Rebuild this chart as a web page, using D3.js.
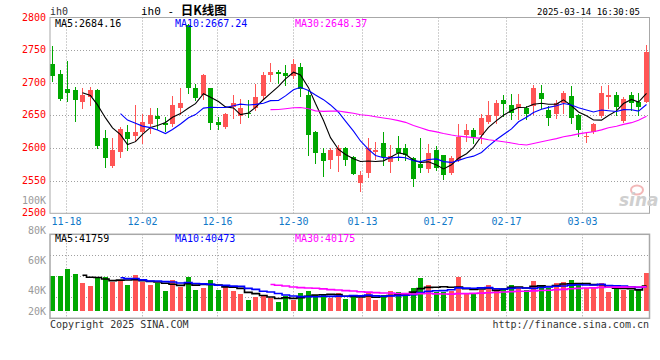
<!DOCTYPE html>
<html><head><meta charset="utf-8">
<script src="https://cdn.jsdelivr.net/npm/d3@7"></script>
<style>
body{margin:0;background:#fff}
svg{display:block}
text{font-family:"DejaVu Sans Mono","Liberation Mono",monospace}
</style>
</head><body>
<svg id="chart" width="660" height="360"></svg>
<script>
// ---------------- data ----------------
const dates = ["11-14","11-15","11-18","11-19","11-20","11-21","11-22","11-25","11-26","11-27","11-28","11-29",
"12-02","12-03","12-04","12-05","12-06","12-09","12-10","12-11","12-12","12-13","12-16","12-17","12-18","12-19","12-20",
"12-23","12-24","12-25","12-26","12-27","12-30","12-31",
"01-02","01-03","01-06","01-07","01-08","01-09","01-10","01-13","01-14","01-15","01-16","01-17","01-20","01-21","01-22","01-23","01-24","01-27",
"02-05","02-06","02-07","02-10","02-11","02-12","02-13","02-14","02-17","02-18","02-19","02-20","02-21","02-24","02-25","02-26","02-27","02-28",
"03-03","03-04","03-05","03-06","03-07","03-10","03-11","03-12","03-13","03-14"];

const openP = [2728.5,2713,2691,2688.5,2670.7,2678.4,2688.6,2616,2572,2594.4,2625.1,2618.5,2625.1,2636.5,2648.5,2639,2636.4,2661,2789,2691.7,
2681.4,2691.7,2640,2632.8,2663.5,2649.2,2654.3,2661,2679,2712.5,2717,2715.5,2710,2723.4,2681,2625.1,2592.9,2581,2587.5,2600,
2586,2546,2562.2,2594.4,2608.2,2579.1,2600.6,2600.6,2585.2,2575,2567.3,2596.5,2588.8,2562.2,2581,2620,2627.2,2620,2640.5,2649.2,
2673.2,2665.6,2661,2662,2664.5,2685,2657.9,2651.7,2669.7,2679.9,2650.8,2616.7,2623.8,2649.2,2678.8,2681.3,2642,2681.3,2671.1,2671.1];
const highP = [2756.5,2719,2734,2693.5,2691.7,2693.7,2690.1,2627.2,2616,2632.3,2635.4,2666,2651.7,2661.6,2661,2647.6,2679.9,2692.7,2790,2697.8,
2713.2,2692,2647.6,2654.3,2682,2674.8,2673.2,2697.8,2716,2731,2719.4,2727,2737,2731,2688.6,2626,2600.6,2600,2605,2602,
2588,2564.5,2615,2609.8,2624.6,2604.1,2618,2605.7,2586.2,2616,2605.7,2603.1,2589,2587.8,2636.4,2637.4,2631.3,2652.8,2672.2,2673.2,
2680.9,2682.4,2682.4,2664.5,2696.8,2696.8,2664.5,2673.2,2687.6,2695.2,2652.3,2623.8,2638,2695,2696.6,2686.4,2678.8,2686.4,2684.9,2757.6];
const lowP = [2703,2673,2671.5,2641.5,2662,2665.6,2600.6,2570.9,2571,2586.2,2596.5,2610.8,2608.2,2623.4,2628.7,2626.2,2633.8,2651.7,2685,2673.7,
2674.8,2628.7,2629.7,2631.3,2646,2639,2647.6,2657.9,2676.3,2702,2699.5,2696.5,2707,2679.9,2589.3,2576.5,2556.5,2569.5,2565.5,2574.5,
2559.5,2533.5,2555.5,2582.7,2574,2563.7,2581,2581,2541.7,2563.7,2563.7,2565.7,2552,2560.6,2580,2610.8,2608.2,2608.2,2639,2639,
2649.2,2644,2644,2644,2651.7,2661,2635.4,2646.6,2654.3,2639,2617.7,2608.5,2622.8,2647.2,2661,2650,2640.6,2658.4,2650.8,2670];
const closeP = [2711,2674.5,2684,2673.7,2681,2688.6,2603.1,2584.2,2597.5,2628.7,2613.4,2625.1,2640.5,2650.3,2644,2635.4,2665.6,2668.6,2692.7,2677.3,
2712.1,2639,2635.4,2651.7,2669,2661,2651.7,2678.4,2711.5,2716.7,2713.5,2710,2729,2690.1,2620,2591.9,2580.1,2597.5,2599.5,2581.5,
2560,2558.5,2600.6,2596.5,2586.2,2587.8,2592,2589.3,2552,2568.8,2592,2568.8,2558.6,2584.2,2617.6,2627.2,2617.5,2645.6,2650.2,2669.7,
2668.1,2654.3,2668.1,2652.8,2691.7,2675.8,2646.6,2669.7,2685,2646.6,2627.9,2618.7,2637,2683.8,2681.3,2663.5,2675.2,2668.6,2663.5,2747.5];
const volume = [50000,50000,54800,51300,45300,43400,49400,49400,46000,47100,43800,50500,46000,43800,44900,39800,47100,42200,49100,40400,
42000,47100,40400,42700,39800,37800,33800,36000,36500,34900,32700,36500,33800,38700,39800,37100,37100,34900,38200,34400,
36500,35300,38200,33800,37100,39800,38900,37600,42000,48700,43800,39400,39400,40000,49300,38200,37600,40500,43800,41100,
42000,43800,41600,40500,46500,43800,41600,44900,45600,47100,44400,41600,41600,44900,38900,41600,40500,40500,41100,51600];

const priceTicks = [2500,2550,2600,2650,2700,2750,2800];
const volTicks = [20000,40000,60000,80000,100000];
const volTickLabels = ["20K","40K","60K","80K","100K"];
const dateTicks = ["11-18","12-02","12-16","12-30","01-13","01-27","02-17","03-03"];
const maPeriods = [5,10,30];
const priceMA = ["2684.16","2667.24","2648.37"];
const volMA = ["41759","40473","40175"];
const symbol = "ih0";
const title = "日K线图";
const stamp = "2025-03-14 16:30:05";

// ---------------- layout ----------------
const L = 50, R = 649.5;
const pTop = 17.5, pBot = 213.3;
const vTop = 234.3, vBot = 318.3, vBarBase = 311;
const UP = "#ff5555", DOWN = "#00a800";
const maColors = ["#000000","#0000ff","#ff00ff"];
const gridColor = "#a0a0a0";

const svg = d3.select("#chart");
const x = d3.scaleBand().domain(dates).range([48.5, 649.7]).padding(0);
const xg = d3.scaleBand().domain(dates).range([46.7, 653.8]).padding(0);
const cx = d => Math.round(x(d) + x.bandwidth()/2);
const gx = d => Math.round(xg(d) + xg.bandwidth()/2) + 0.5;
const y = d3.scaleLinear().domain([2500,2800]).range([pBot,pTop]);
const yV = d3.scaleLinear().domain([0,100000]).range([350.7,200.7]);
const py = v => Math.round(v) + 0.5;

const idx = d3.range(dates.length);

// ---------------- header ----------------
svg.append("text").attr("x",50).attr("y",15).attr("font-size",10).attr("fill","#333").text(symbol);
const t = svg.append("text").attr("x",141).attr("y",15).attr("fill","#000");
t.append("tspan").attr("font-size",11).text(symbol+" - ");
t.append("tspan").attr("font-size",12.5).attr("font-weight","bold").style("font-family","'Noto Sans CJK SC',sans-serif").text(title);
svg.append("text").attr("x",640).attr("y",15).attr("text-anchor","end").attr("font-size",9).attr("fill","#000").text(stamp);

// ---------------- grids ----------------
const g = svg.append("g");
// price horizontal grid
g.selectAll(".hg").data(priceTicks.filter(v=>v>2500 && v<2800)).enter().append("line")
  .attr("x1",L).attr("x2",R).attr("y1",d=>py(y(d))).attr("y2",d=>py(y(d)))
  .attr("stroke",gridColor).attr("stroke-dasharray","1,2");
// vertical grid (price + volume)
g.selectAll(".vg").data(dateTicks).enter().append("line")
  .attr("x1",gx).attr("x2",gx).attr("y1",pTop).attr("y2",pBot)
  .attr("stroke",gridColor).attr("stroke-dasharray","1,2");
g.selectAll(".vg2").data(dateTicks).enter().append("line")
  .attr("x1",gx).attr("x2",gx).attr("y1",vTop).attr("y2",vBot)
  .attr("stroke",gridColor).attr("stroke-dasharray","1,2");
// volume horizontal grid
g.selectAll(".vhg").data([0.25,0.5,0.75]).enter().append("line")
  .attr("x1",L).attr("x2",R).attr("y1",d=>py(vTop+(vBot-vTop)*d-0.6)).attr("y2",d=>py(vTop+(vBot-vTop)*d-0.6))
  .attr("stroke",gridColor).attr("stroke-dasharray","1,2");

// ---------------- candles ----------------
const cg = svg.append("g").attr("shape-rendering","crispEdges");
cg.selectAll(".wick").data(idx).enter().append("line")
  .attr("x1",i=>cx(dates[i])+0.5).attr("x2",i=>cx(dates[i])+0.5)
  .attr("y1",i=>Math.round(y(highP[i]))).attr("y2",i=>Math.round(y(lowP[i]))+1)
  .attr("stroke",i=>closeP[i]>=openP[i]?UP:DOWN);
cg.selectAll(".body").data(idx).enter().append("rect")
  .attr("x",i=>cx(dates[i])-2).attr("width",5)
  .attr("y",i=>Math.round(y(Math.max(openP[i],closeP[i]))))
  .attr("height",i=>Math.max(1,Math.round(y(Math.min(openP[i],closeP[i])))-Math.round(y(Math.max(openP[i],closeP[i])))))
  .attr("fill",i=>closeP[i]>=openP[i]?UP:DOWN);

// moving averages
function sma(arr,p){return arr.map((v,i)=> i<p-1?null:d3.mean(arr.slice(i-p+1,i+1)));}
maPeriods.forEach((p,k)=>{
  const m = sma(closeP,p);
  const pts = idx.filter(i=>m[i]!==null);
  svg.append("path").datum(pts)
    .attr("d",d3.line().x(i=>cx(dates[i])+0.5).y(i=>y(m[i])))
    .attr("fill","none").attr("stroke",maColors[k]).attr("stroke-width",1.1);
});

// volume bars
const vg = svg.append("g").attr("shape-rendering","crispEdges");
vg.selectAll(".vb").data(idx).enter().append("rect")
  .attr("x",i=>cx(dates[i])-2).attr("width",5)
  .attr("y",i=>Math.round(yV(volume[i])))
  .attr("height",i=>vBarBase-Math.round(yV(volume[i])))
  .attr("fill",i=>closeP[i]>=openP[i]?UP:DOWN);
maPeriods.forEach((p,k)=>{
  const m = sma(volume,p);
  const pts = idx.filter(i=>m[i]!==null);
  svg.append("path").datum(pts)
    .attr("d",d3.line().curve(d3.curveStep).x(i=>cx(dates[i])+0.5).y(i=>yV(m[i])))
    .attr("fill","none").attr("stroke",maColors[k]).attr("stroke-width",1.6);
});

// ---------------- frames ----------------
svg.append("rect").attr("x",L).attr("y",pTop).attr("width",R-L).attr("height",pBot-pTop)
  .attr("fill","none").attr("stroke","#a8a8a8").attr("stroke-width",1);
svg.append("rect").attr("x",L).attr("y",vTop).attr("width",R-L).attr("height",vBot-vTop)
  .attr("fill","none").attr("stroke","#a8a8a8").attr("stroke-width",1.5);

// ---------------- axis labels ----------------
svg.selectAll(".pl").data(priceTicks).enter().append("text")
  .attr("x",46).attr("y",d=>y(d)+3).attr("text-anchor","end").attr("font-size",10).attr("fill","#ff0000").text(d=>d);
svg.selectAll(".vl").data(volTicks).enter().append("text")
  .attr("x",46).attr("y",d=>Math.min(yV(d),311.7)+3.6).attr("text-anchor","end").attr("font-size",10).attr("fill","#9a9a9a")
  .text((d,i)=>volTickLabels[i]);
svg.selectAll(".dl").data(dateTicks).enter().append("text")
  .attr("x",gx).attr("y",224.6).attr("text-anchor","middle").attr("font-size",10).attr("fill","#1078c8").text(d=>d);

// MA legends
const legX = [55,175,295];
maPeriods.forEach((p,k)=>{
  svg.append("text").attr("x",legX[k]).attr("y",27).attr("font-size",10).attr("fill",maColors[k]).text("MA"+p+":"+priceMA[k]);
  svg.append("text").attr("x",legX[k]).attr("y",241.8).attr("font-size",10).attr("fill",maColors[k]).text("MA"+p+":"+volMA[k]);
});

// watermark
svg.append("ellipse").attr("cx",637).attr("cy",190).attr("rx",6).attr("ry",4.5).attr("fill","none").attr("stroke","#f2b8b8").attr("stroke-width",2);
svg.append("text").attr("x",619).attr("y",206).attr("font-size",17).attr("font-weight","bold").attr("font-style","italic")
  .style("font-family","'DejaVu Sans',sans-serif").attr("fill","#cfcfcf").text("sina");

// footer
svg.append("text").attr("x",50).attr("y",327.5).attr("font-size",10).attr("fill","#333").text("Copyright 2025 SINA.COM");
svg.append("text").attr("x",649).attr("y",327.5).attr("text-anchor","end").attr("font-size",10).attr("fill","#333").text("http://finance.sina.com.cn");
</script>
</body></html>
